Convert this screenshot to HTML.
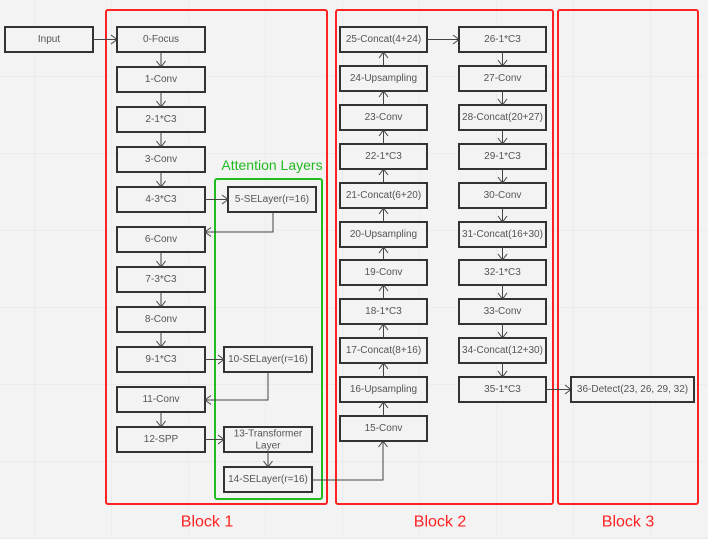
<!DOCTYPE html>
<html><head><meta charset="utf-8"><style>
html,body{margin:0;padding:0;background:#f3f3f3}
svg{display:block}
text{font-family:"Liberation Sans",sans-serif;font-size:10px;fill:#555;text-anchor:middle;dominant-baseline:central}
.b{fill:#f3f3f3;stroke:#333;stroke-width:2}
.l{stroke:#444;stroke-width:1;fill:none}
</style></head><body>
<svg width="708" height="539" viewBox="0 0 708 539">
<defs>
<marker id="a" markerWidth="10" markerHeight="10" refX="9" refY="5" orient="auto" markerUnits="userSpaceOnUse">
<polyline points="3,0.5 9,5 3,9.5" fill="none" stroke="#444" stroke-width="1"/>
</marker>
<pattern id="g" width="77" height="77" patternUnits="userSpaceOnUse" x="-42" y="0">
<path d="M77 0V77M0 77H77" stroke="#e6e6e6" stroke-width="1" fill="none"/>
</pattern>
</defs>
<rect width="708" height="539" fill="url(#g)"/>
<!-- blocks -->
<rect x="106" y="10" width="221" height="494" rx="2" fill="none" stroke="#f22" stroke-width="2"/>
<rect x="336" y="10" width="217" height="494" rx="2" fill="none" stroke="#f22" stroke-width="2"/>
<rect x="558" y="10" width="140" height="494" rx="2" fill="none" stroke="#f22" stroke-width="2"/>
<rect x="215" y="179" width="107" height="320" rx="2" fill="none" stroke="#2b2" stroke-width="2"/>
<text x="272" y="165" style="font-size:14px;fill:#2b2">Attention Layers</text>
<text x="207" y="522" style="font-size:16px;fill:#f22">Block 1</text>
<text x="440" y="522" style="font-size:16px;fill:#f22">Block 2</text>
<text x="628" y="522" style="font-size:16px;fill:#f22">Block 3</text>

<!-- input -->
<rect class="b" x="5" y="27" width="88" height="25"/><text x="49" y="39.5">Input</text>
<line class="l" x1="93" y1="39.5" x2="117" y2="39.5" marker-end="url(#a)"/>

<!-- block1 main column -->
<g>
<rect class="b" x="117" y="27" width="88" height="25"/><text x="161" y="39.5">0-Focus</text>
<rect class="b" x="117" y="67" width="88" height="25"/><text x="161" y="79.5">1-Conv</text>
<rect class="b" x="117" y="107" width="88" height="25"/><text x="161" y="119.5">2-1*C3</text>
<rect class="b" x="117" y="147" width="88" height="25"/><text x="161" y="159.5">3-Conv</text>
<rect class="b" x="117" y="187" width="88" height="25"/><text x="161" y="199.5">4-3*C3</text>
<rect class="b" x="117" y="227" width="88" height="25"/><text x="161" y="239.5">6-Conv</text>
<rect class="b" x="117" y="267" width="88" height="25"/><text x="161" y="279.5">7-3*C3</text>
<rect class="b" x="117" y="307" width="88" height="25"/><text x="161" y="319.5">8-Conv</text>
<rect class="b" x="117" y="347" width="88" height="25"/><text x="161" y="359.5">9-1*C3</text>
<rect class="b" x="117" y="387" width="88" height="25"/><text x="161" y="399.5">11-Conv</text>
<rect class="b" x="117" y="427" width="88" height="25"/><text x="161" y="439.5">12-SPP</text>
<line class="l" x1="161" y1="52" x2="161" y2="67" marker-end="url(#a)"/>
<line class="l" x1="161" y1="92" x2="161" y2="107" marker-end="url(#a)"/>
<line class="l" x1="161" y1="132" x2="161" y2="147" marker-end="url(#a)"/>
<line class="l" x1="161" y1="172" x2="161" y2="187" marker-end="url(#a)"/>
<line class="l" x1="161" y1="252" x2="161" y2="267" marker-end="url(#a)"/>
<line class="l" x1="161" y1="292" x2="161" y2="307" marker-end="url(#a)"/>
<line class="l" x1="161" y1="332" x2="161" y2="347" marker-end="url(#a)"/>
<line class="l" x1="161" y1="412" x2="161" y2="427" marker-end="url(#a)"/>
</g>
<!-- attention -->
<rect class="b" x="228" y="187" width="88" height="25"/><text x="272" y="199.5">5-SELayer(r=16)</text>
<rect class="b" x="224" y="347" width="88" height="25"/><text x="268" y="359.5">10-SELayer(r=16)</text>
<rect class="b" x="224" y="427" width="88" height="25"/><text x="268" y="434">13-Transformer</text><text x="268" y="446">Layer</text>
<rect class="b" x="224" y="467" width="88" height="25"/><text x="268" y="479.5">14-SELayer(r=16)</text>
<line class="l" x1="205" y1="199.5" x2="228" y2="199.5" marker-end="url(#a)"/>
<polyline class="l" points="273,212 273,232 205,232" marker-end="url(#a)"/>
<line class="l" x1="205" y1="359.5" x2="224" y2="359.5" marker-end="url(#a)"/>
<polyline class="l" points="268,372 268,400 205,400" marker-end="url(#a)"/>
<line class="l" x1="205" y1="439.5" x2="224" y2="439.5" marker-end="url(#a)"/>
<line class="l" x1="268" y1="452" x2="268" y2="467" marker-end="url(#a)"/>
<polyline class="l" points="312,480 383,480 383,441" marker-end="url(#a)"/>

<!-- block2 left column (up) -->
<rect class="b" x="340" y="27" width="87" height="25"/><text x="383.5" y="39.5">25-Concat(4+24)</text>
<rect class="b" x="340" y="66" width="87" height="25"/><text x="383.5" y="78.5">24-Upsampling</text>
<rect class="b" x="340" y="105" width="87" height="25"/><text x="383.5" y="117.5">23-Conv</text>
<rect class="b" x="340" y="144" width="87" height="25"/><text x="383.5" y="156.5">22-1*C3</text>
<rect class="b" x="340" y="183" width="87" height="25"/><text x="383.5" y="195.5">21-Concat(6+20)</text>
<rect class="b" x="340" y="222" width="87" height="25"/><text x="383.5" y="234.5">20-Upsampling</text>
<rect class="b" x="340" y="260" width="87" height="25"/><text x="383.5" y="272.5">19-Conv</text>
<rect class="b" x="340" y="299" width="87" height="25"/><text x="383.5" y="311.5">18-1*C3</text>
<rect class="b" x="340" y="338" width="87" height="25"/><text x="383.5" y="350.5">17-Concat(8+16)</text>
<rect class="b" x="340" y="377" width="87" height="25"/><text x="383.5" y="389.5">16-Upsampling</text>
<rect class="b" x="340" y="416" width="87" height="25"/><text x="383.5" y="428.5">15-Conv</text>
<line class="l" x1="383.5" y1="66" x2="383.5" y2="52" marker-end="url(#a)"/>
<line class="l" x1="383.5" y1="105" x2="383.5" y2="91" marker-end="url(#a)"/>
<line class="l" x1="383.5" y1="144" x2="383.5" y2="130" marker-end="url(#a)"/>
<line class="l" x1="383.5" y1="183" x2="383.5" y2="169" marker-end="url(#a)"/>
<line class="l" x1="383.5" y1="222" x2="383.5" y2="208" marker-end="url(#a)"/>
<line class="l" x1="383.5" y1="260" x2="383.5" y2="247" marker-end="url(#a)"/>
<line class="l" x1="383.5" y1="299" x2="383.5" y2="285" marker-end="url(#a)"/>
<line class="l" x1="383.5" y1="338" x2="383.5" y2="324" marker-end="url(#a)"/>
<line class="l" x1="383.5" y1="377" x2="383.5" y2="363" marker-end="url(#a)"/>
<line class="l" x1="383.5" y1="416" x2="383.5" y2="402" marker-end="url(#a)"/>
<line class="l" x1="427" y1="39.5" x2="459" y2="39.5" marker-end="url(#a)"/>

<!-- block2 right column (down) -->
<rect class="b" x="459" y="27" width="87" height="25"/><text x="502.5" y="39.5">26-1*C3</text>
<rect class="b" x="459" y="66" width="87" height="25"/><text x="502.5" y="78.5">27-Conv</text>
<rect class="b" x="459" y="105" width="87" height="25"/><text x="502.5" y="117.5">28-Concat(20+27)</text>
<rect class="b" x="459" y="144" width="87" height="25"/><text x="502.5" y="156.5">29-1*C3</text>
<rect class="b" x="459" y="183" width="87" height="25"/><text x="502.5" y="195.5">30-Conv</text>
<rect class="b" x="459" y="222" width="87" height="25"/><text x="502.5" y="234.5">31-Concat(16+30)</text>
<rect class="b" x="459" y="260" width="87" height="25"/><text x="502.5" y="272.5">32-1*C3</text>
<rect class="b" x="459" y="299" width="87" height="25"/><text x="502.5" y="311.5">33-Conv</text>
<rect class="b" x="459" y="338" width="87" height="25"/><text x="502.5" y="350.5">34-Concat(12+30)</text>
<rect class="b" x="459" y="377" width="87" height="25"/><text x="502.5" y="389.5">35-1*C3</text>
<line class="l" x1="502.5" y1="52" x2="502.5" y2="66" marker-end="url(#a)"/>
<line class="l" x1="502.5" y1="91" x2="502.5" y2="105" marker-end="url(#a)"/>
<line class="l" x1="502.5" y1="130" x2="502.5" y2="144" marker-end="url(#a)"/>
<line class="l" x1="502.5" y1="169" x2="502.5" y2="183" marker-end="url(#a)"/>
<line class="l" x1="502.5" y1="208" x2="502.5" y2="222" marker-end="url(#a)"/>
<line class="l" x1="502.5" y1="247" x2="502.5" y2="260" marker-end="url(#a)"/>
<line class="l" x1="502.5" y1="285" x2="502.5" y2="299" marker-end="url(#a)"/>
<line class="l" x1="502.5" y1="324" x2="502.5" y2="338" marker-end="url(#a)"/>
<line class="l" x1="502.5" y1="363" x2="502.5" y2="377" marker-end="url(#a)"/>
<line class="l" x1="546" y1="389.5" x2="571" y2="389.5" marker-end="url(#a)"/>

<!-- block3 -->
<rect class="b" x="571" y="377" width="123" height="25"/><text x="632.5" y="389.5">36-Detect(23, 26, 29, 32)</text>
</svg>
</body></html>
